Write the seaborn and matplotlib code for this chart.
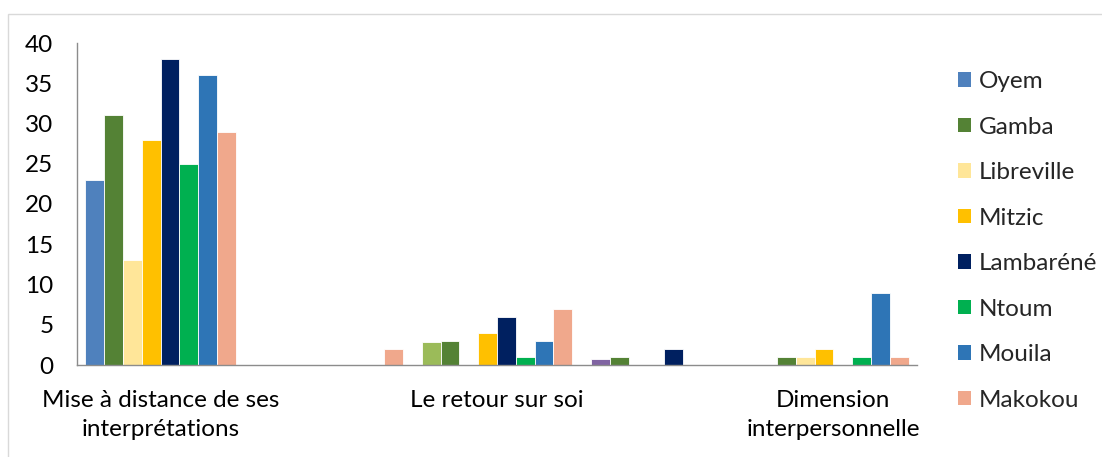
import numpy as np
import pandas as pd
import matplotlib
matplotlib.use("Agg")
import matplotlib.pyplot as plt
import matplotlib.transforms as mtransforms
from matplotlib.patches import Patch, Rectangle
import seaborn as sns

# ---------------- data ----------------
categories = ["Mise à distance de ses\ninterprétations", "Le retour sur soi", "Dimension\ninterpersonnelle"]
cities = ["Oyem", "Gamba", "Libreville", "Mitzic", "Lambaréné", "Ntoum", "Mouila", "Makokou"]
city_colors = ["#4F81BD", "#548235", "#FFE699", "#FFC000", "#002060", "#00B050", "#2E75B6", "#F0A88C"]
extra_colors = {"extra1": "#9BBB59", "extra2": "#8064A2"}

slots = [f"s{i}" for i in range(14)]
mise_values = [23, 31, 13, 28, 38, 25, 36, 29, 0, 0, 0, 0, 0, 0]
retour_values = [0, 2, 0, 2.8, 3, 0, 4, 6, 1, 3, 7, 0, 0.8, 1]
dimension_values = [0, 2, 0, 0, 0, 0, 0, 1, 1, 2, 0, 1, 9, 1]
mise_keys = cities + [None] * 6
retour_keys = [None, "Makokou", None, "extra1", "Gamba", None, "Mitzic", "Lambaréné",
               "Ntoum", "Mouila", "Makokou", None, "extra2", "Gamba"]
dimension_keys = [None, "Lambaréné", None, None, None, None, None, "Gamba",
                  "Libreville", "Mitzic", None, "Ntoum", "Mouila", "Makokou"]

all_values = [mise_values, retour_values, dimension_values]
all_keys = [mise_keys, retour_keys, dimension_keys]
color_of = dict(zip(cities, city_colors))
color_of.update(extra_colors)

rows = []
for cat, vals in zip(categories, all_values):
    for s, v in zip(slots, vals):
        rows.append({"category": cat, "slot": s, "value": v})
df = pd.DataFrame(rows)

# ---------------- style ----------------
sns.set_style("white")
plt.rcParams["font.family"] = ["Lato", "DejaVu Sans"]
FS = 17.5

fig = plt.figure(figsize=(11.02, 4.57), dpi=100)
W, H = 1102, 457
ax = fig.add_axes([77 / W, 1 - 365 / H, (917 - 77) / W, (365 - 43) / H])

WIDTH = 0.94
sns.barplot(data=df, x="category", y="value", hue="slot", order=categories,
            hue_order=slots, palette={s: "#ffffff" for s in slots}, width=WIDTH,
            gap=0, dodge=True, errorbar=None, legend=False, ax=ax)

step = WIDTH / len(slots)
for bar in ax.patches:
    x0 = bar.get_x()
    cx = x0 + bar.get_width() / 2
    ci = int(round(cx))
    si = int(round((x0 - (ci - WIDTH / 2)) / step))
    key = all_keys[ci][si] if 0 <= si < len(slots) else None
    if key is None or bar.get_height() == 0:
        bar.set_visible(False)
        continue
    bar.set_facecolor(color_of[key])
    bar.set_edgecolor("#ffffff")
    bar.set_linewidth(0.6)

ax.set_xlim(-0.5, 2.5)
ax.set_ylim(0, 40)
ax.set_yticks(np.arange(0, 41, 5))
ax.tick_params(axis="y", length=0, pad=17, labelsize=FS, labelcolor="#000000")
ax.set_xticks([])
ax.set_xlabel("")
ax.set_ylabel("")
for sp in ["top", "right"]:
    ax.spines[sp].set_visible(False)
for sp in ["left", "bottom"]:
    ax.spines[sp].set_color("#8C8C8C")
    ax.spines[sp].set_linewidth(1.0)

# category labels (positions as in the reference)
label_x = [-0.2, 1.0, 2.2]
trans = mtransforms.blended_transform_factory(ax.transData, ax.transAxes)
for lx, lab in zip(label_x, categories):
    ax.text(lx, -0.077, lab, transform=trans, ha="center", va="top",
            fontsize=FS, linespacing=1.5, color="#000000")

# legend
handles = [Patch(facecolor=c, edgecolor="none") for c in city_colors]
fig.legend(handles, cities, loc="upper left", bbox_to_anchor=(958 / W, 1 - 71 / H),
           frameon=False, fontsize=FS, handlelength=0.54, handleheight=0.54,
           handletextpad=0.3, labelspacing=1.01, borderpad=0, borderaxespad=0)

# chart border
fig.add_artist(Rectangle((8 / W, -0.02), 1.1, (H - 13.5) / H + 0.02,
                         transform=fig.transFigure, fill=False,
                         edgecolor="#D9D9D9", linewidth=1.0))

fig.savefig("out.png", dpi=100)
